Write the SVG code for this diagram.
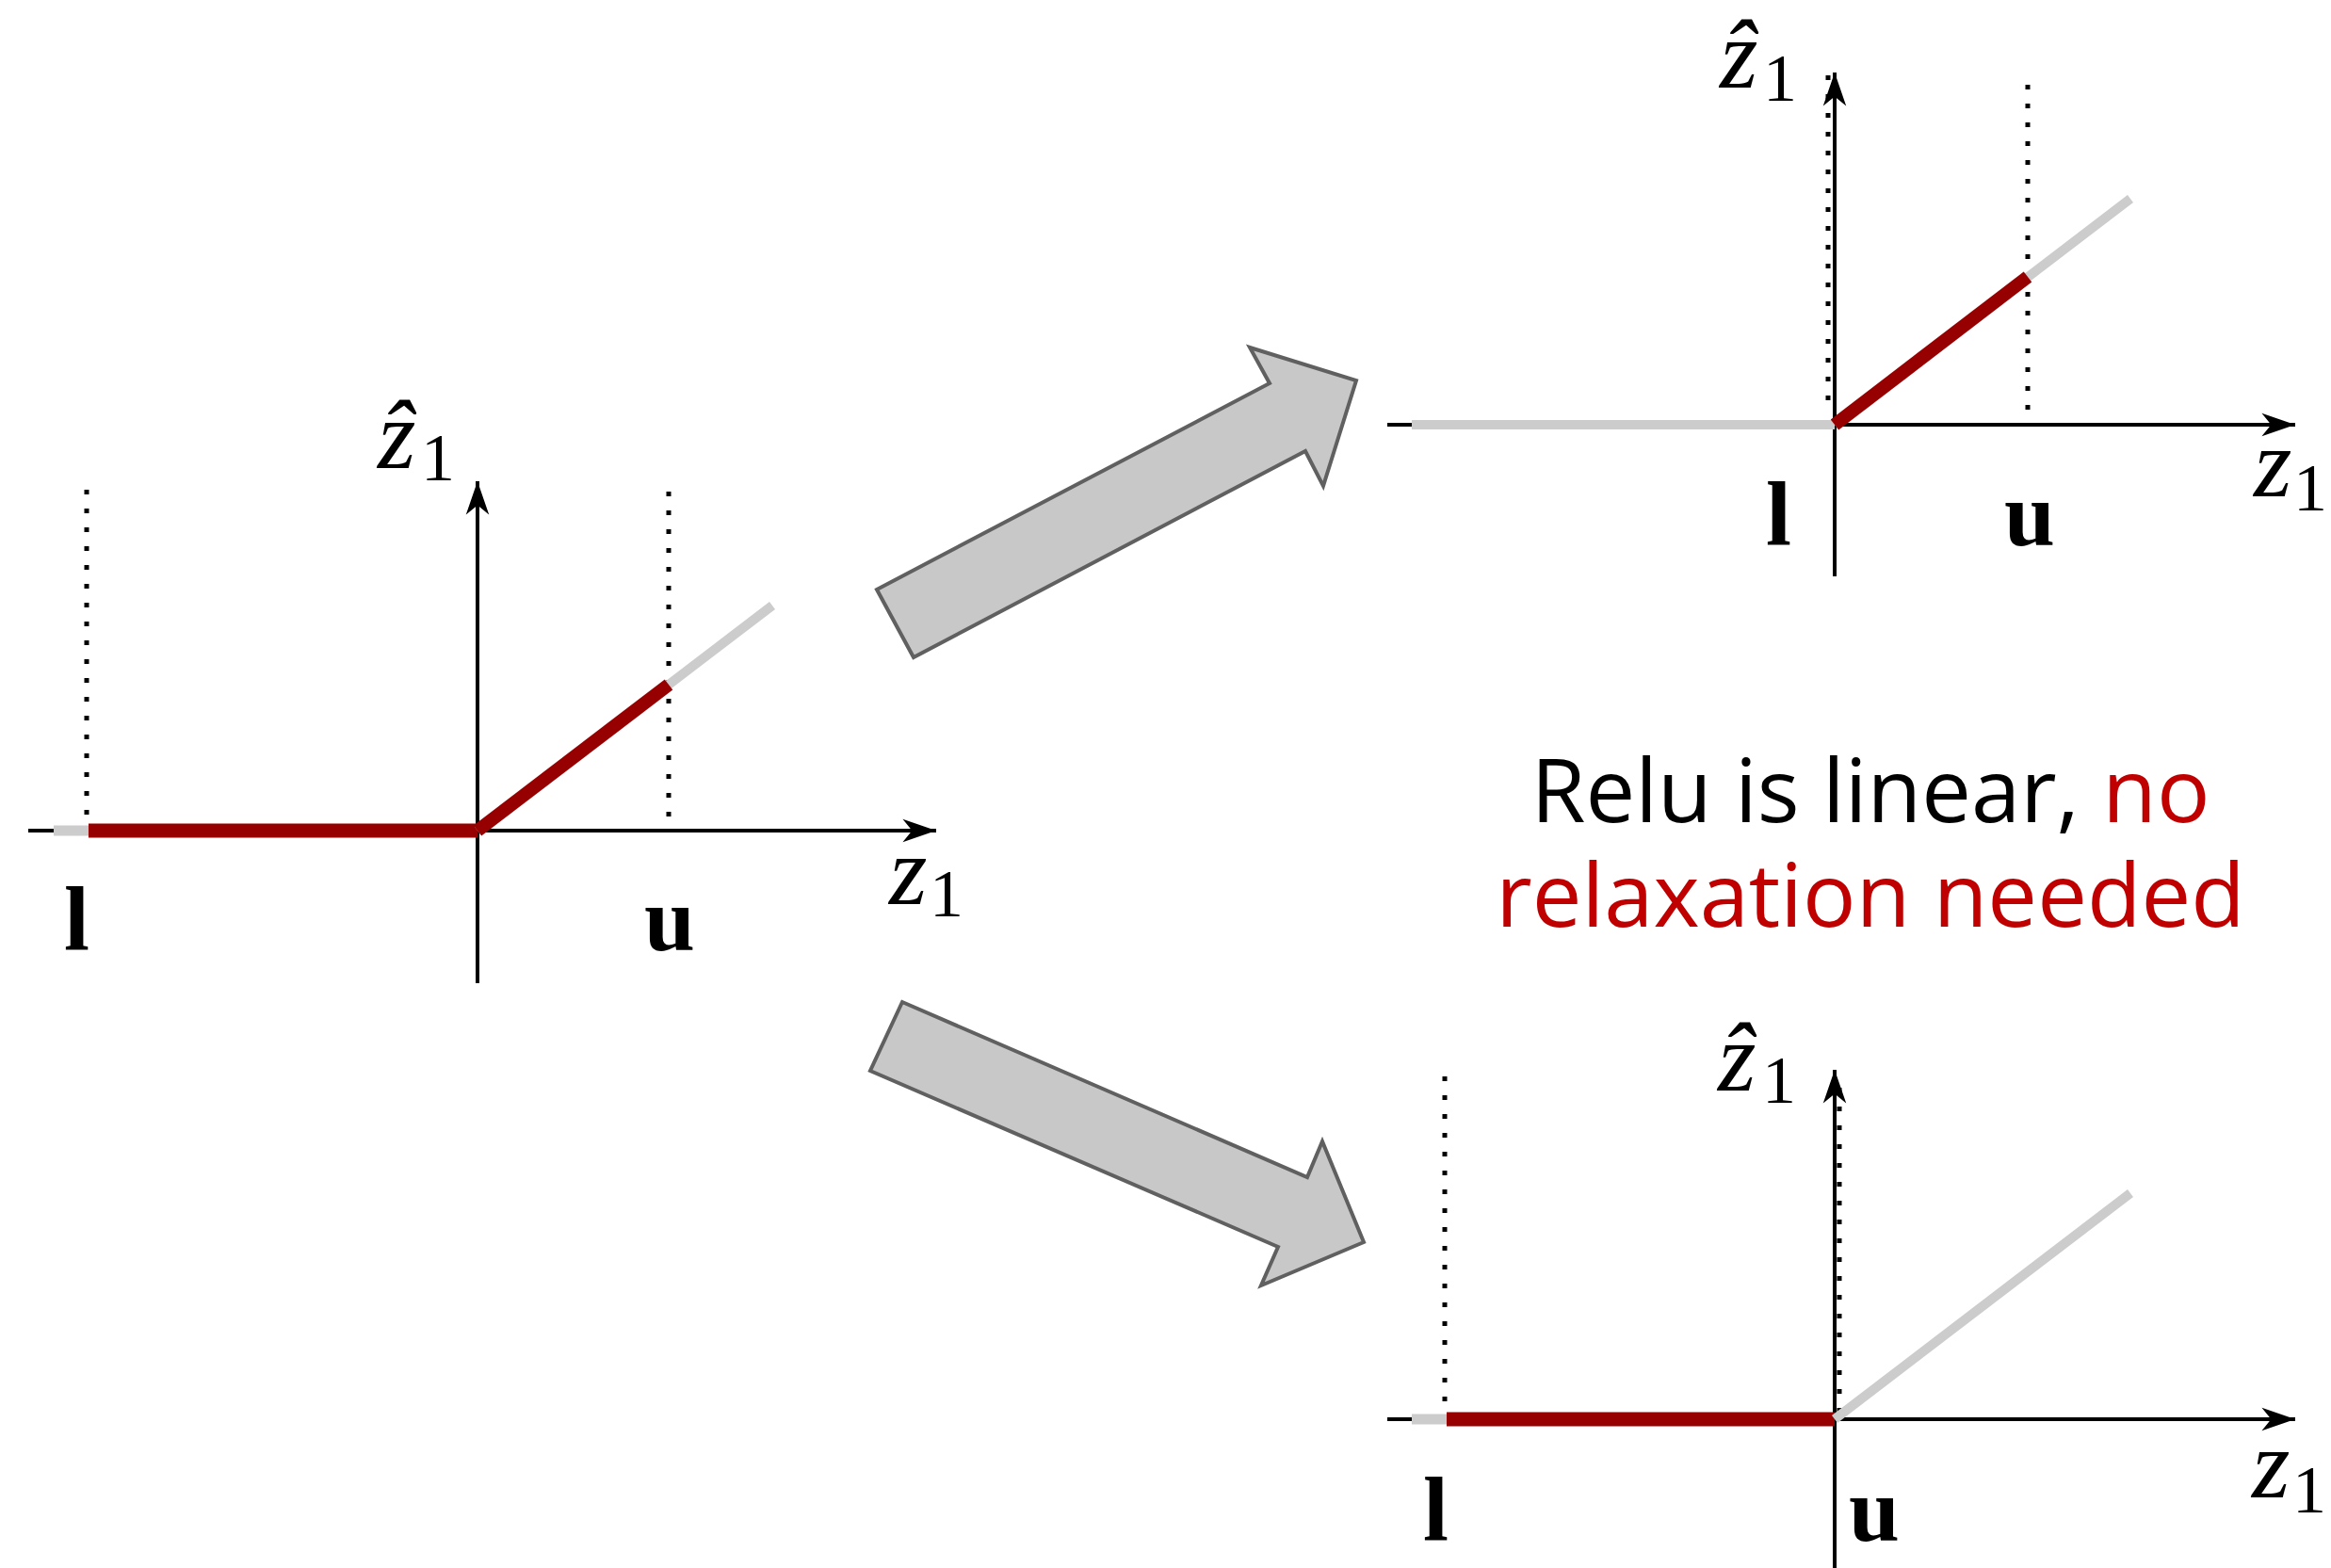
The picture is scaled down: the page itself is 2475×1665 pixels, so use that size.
<svg xmlns="http://www.w3.org/2000/svg" width="2475" height="1665" viewBox="0 0 2475 1665">
<defs>
<marker id="ah" markerWidth="40" markerHeight="30" viewBox="-34 -13 36 26" refX="0" refY="0" markerUnits="userSpaceOnUse" orient="auto">
<path d="M0,0 L-32,-11 L-23,0 L-32,11 Z" fill="#000"/>
</marker>
</defs>
<style>
.axis{stroke:#000;stroke-width:4;fill:none}
.dot{stroke:#000;stroke-width:5;stroke-dasharray:5 15;fill:none}
.red{stroke:#970000;stroke-width:15;fill:none}
.redd{stroke:#970000;stroke-width:14;fill:none}
.gray{stroke:#cccccc;stroke-width:10;fill:none}
.mz{font-family:"Liberation Serif",serif;font-style:italic;font-size:104px;fill:#000}
.ms{font-family:"Liberation Serif",serif;font-style:normal;font-size:72px}
.bd{font-family:"Liberation Serif",serif;font-weight:bold;font-size:97px;fill:#000}
.cap{font-family:"Open Sans","Noto Sans",sans-serif;font-size:94px;fill:#000}
.rt{fill:#c00000}
.blk{fill:#c8c8c8;stroke:#606060;stroke-width:4;stroke-linejoin:miter}
</style>
<rect width="2475" height="1665" fill="#fff"/>

<g id="graph-left">
<line class="axis" x1="30" y1="882" x2="994" y2="882" marker-end="url(#ah)"/>
<line class="axis" x1="507" y1="1044" x2="507" y2="511" marker-end="url(#ah)"/>
<line class="dot" x1="92" y1="520" x2="92" y2="866"/>
<line class="dot" x1="710" y1="522" x2="710" y2="868"/>
<line class="gray" x1="57" y1="882" x2="94" y2="882" style="stroke-width:11"/>
<line class="red" x1="94" y1="882" x2="507" y2="882"/>
<line class="gray" x1="507" y1="882" x2="820" y2="643"/>
<line class="redd" x1="507" y1="882" x2="710" y2="727"/>
<text class="mz" x="401" y="497">z&#x302;<tspan class="ms" x="447" y="510">1</tspan></text>
<text class="mz" x="944" y="960">z<tspan class="ms" x="987" y="973">1</tspan></text>
<text class="bd" x="68" y="1009">l</text>
<text class="bd" x="684" y="1009">u</text>
</g>

<g id="graph-top">
<line class="axis" x1="1473" y1="451" x2="2437" y2="451" marker-end="url(#ah)"/>
<line class="axis" x1="1948" y1="612" x2="1948" y2="77" marker-end="url(#ah)"/>
<line class="dot" x1="1941" y1="80" x2="1941" y2="426"/>
<line class="dot" x1="2153" y1="90" x2="2153" y2="436"/>
<line class="gray" x1="1499" y1="451" x2="1948" y2="451"/>
<line class="gray" x1="1948" y1="451" x2="2262" y2="211"/>
<line class="redd" x1="1948" y1="451" x2="2153" y2="294"/>
<text class="mz" x="1826" y="93">z&#x302;<tspan class="ms" x="1872" y="107">1</tspan></text>
<text class="mz" x="2393" y="527">z<tspan class="ms" x="2435" y="542">1</tspan></text>
<text class="bd" x="1875" y="579">l</text>
<text class="bd" x="2128" y="579">u</text>
</g>

<g id="graph-bottom">
<line class="axis" x1="1473" y1="1507" x2="2437" y2="1507" marker-end="url(#ah)"/>
<line class="axis" x1="1948" y1="1670" x2="1948" y2="1136" marker-end="url(#ah)"/>
<line class="dot" x1="1534" y1="1143" x2="1534" y2="1489"/>
<line class="dot" x1="1953" y1="1155" x2="1953" y2="1501"/>
<line class="gray" x1="1499" y1="1507" x2="1536" y2="1507" style="stroke-width:11"/>
<line class="red" x1="1536" y1="1507" x2="1948" y2="1507"/>
<line class="gray" x1="1948" y1="1507" x2="2262" y2="1267"/>
<text class="mz" x="1824" y="1158">z&#x302;<tspan class="ms" x="1871" y="1171">1</tspan></text>
<text class="mz" x="2391" y="1590">z<tspan class="ms" x="2434" y="1606">1</tspan></text>
<text class="bd" x="1511" y="1636">l</text>
<text class="bd" x="1963" y="1636">u</text>
</g>

<g id="caption">
<text class="cap" x="1986" y="873" text-anchor="middle">Relu is linear, <tspan class="rt">no</tspan></text>
<text class="cap rt" x="1986" y="984" text-anchor="middle">relaxation needed</text>
</g>

<g id="connectors">
<polygon class="blk" points="931,626 1348,407 1327,369 1440,404 1405,516 1386,479 970,698"/>
<polygon class="blk" points="958,1064 1388,1250 1404,1212 1448,1319 1339,1365 1357,1324 924,1137"/>
</g>
</svg>
